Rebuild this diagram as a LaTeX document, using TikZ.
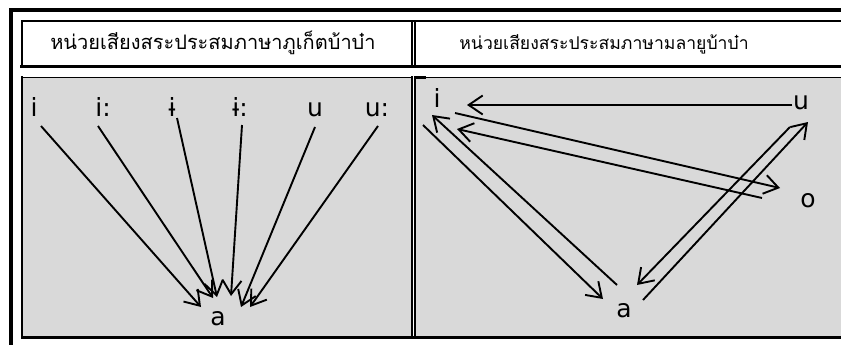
\documentclass[tikz,border=0pt]{standalone}
\usepackage{fontspec}
\usetikzlibrary{arrows.meta}
\newfontfamily\thaifont[Script=Thai]{Loma}
\newfontfamily\labfont{DejaVu Sans}
\definecolor{cellgray}{RGB}{217,217,217}
\tikzset{
  frame/.style={line width=#1, line cap=rect},
  lab/.style={font=\labfont\fontsize{25}{28}\selectfont, inner sep=0pt, anchor=base},
  head/.style={font=\thaifont\fontsize{#1}{24}\selectfont, inner sep=0pt, anchor=base},
  arr/.style={line width=1.9pt, -{Straight Barb[length=14pt,width=19pt]}}
}
\begin{document}
\begin{tikzpicture}[x=1pt,y=-1pt]
\useasboundingbox (0,0) rectangle (841,345);
\fill[white] (0,0) rectangle (841,345);

% grey body cells
\fill[cellgray] (22,77) rectangle (412,338);
\fill[cellgray] (415,77) rectangle (841,338);

% outer table frame
\draw[frame=4pt] (11,345) -- (11,10.5) -- (841,10.5);

% header cells
\draw[frame=1.8pt] (22,66) -- (22,21) -- (841,21);
\draw[frame=1.8pt] (412,21) -- (412,66);
\draw[frame=1.8pt] (415,21) -- (415,66);
\draw[frame=3.5pt] (22,66.5) -- (412,66.5);
\draw[frame=3.5pt] (415,66.5) -- (841,66.5);

% body cells
\draw[frame=1.2pt] (22,77.5) -- (412,77.5);
\draw[frame=1.2pt] (415,77.5) -- (841,77.5);
\draw[frame=2.2pt] (416,77.5) -- (425,77.5);
\draw[frame=1.8pt] (22,77) -- (22,337);
\draw[frame=1.8pt] (412,77) -- (412,337);
\draw[frame=1.8pt] (415,77) -- (415,337);
\draw[frame=3pt] (22,337.5) -- (412,337.5);
\draw[frame=3pt] (415,337.5) -- (841,337.5);

% column headings
\node[head=20] (h1) at (213,50) {หน่วยเสียงสระประสมภาษาภูเก็ตบ้าบ๋า};
\node[head=17.6] (h2) at (604,50) {หน่วยเสียงสระประสมภาษามลายูบ้าบ๋า};

% left panel: every vowel glides to a
\node[lab] (l1) at (34,116) {i};
\node[lab] (l2) at (103,116) {i:};
\node[lab] (l3) at (172,116) {ɨ};
\node[lab] (l4) at (240,116) {ɨ:};
\node[lab] (l5) at (315,116) {u};
\node[lab] (l6) at (377,116) {u:};
\node[lab] (la) at (218,325) {a};

\coordinate (s1) at (41,126);  \coordinate (t1) at (201,307);
\coordinate (s2) at (98,126);  \coordinate (t2) at (213,298);
\coordinate (s3) at (177,118); \coordinate (t3) at (217,297);
\coordinate (s4) at (242,125); \coordinate (t4) at (231,296);
\coordinate (s5) at (315,127); \coordinate (t5) at (241,307);
\coordinate (s6) at (378,126); \coordinate (t6) at (250,307);
\foreach \k in {1,...,6} \draw[arr] (s\k) -- (t\k);

% right panel: glides among i, u, o and a
\node[lab] (ri) at (437,107) {i};
\node[lab] (ru) at (801,110) {u};
\node[lab] (ro) at (808,207) {o};
\node[lab] (ra) at (624,317) {a};

\coordinate (ui0) at (792,105); \coordinate (ui1) at (467,105);
\coordinate (io0) at (455,113); \coordinate (io1) at (780,188);
\coordinate (oi0) at (762,198); \coordinate (oi1) at (457,129);
\coordinate (ai0) at (617,285); \coordinate (ai1) at (432,115);
\coordinate (ia0) at (423,125); \coordinate (ia1) at (603,299);
\coordinate (ua0) at (790,127); \coordinate (ua1) at (637,285);
\coordinate (au0) at (643,300); \coordinate (au1) at (808,122);
\foreach \p in {ui,io,oi,ai,ia,ua,au} \draw[arr] (\p0) -- (\p1);
\end{tikzpicture}
\end{document}
